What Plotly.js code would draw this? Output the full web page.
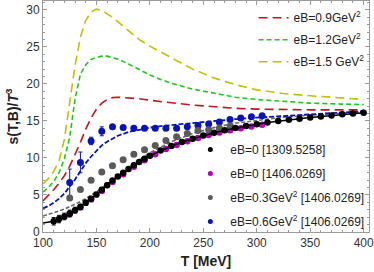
<!DOCTYPE html>
<html><head><meta charset="utf-8">
<script src="https://cdn.plot.ly/plotly-3.0.1.min.js"></script>
<style>html,body{margin:0;padding:0;background:#fff}#chart{width:374px;height:272px}</style>
</head><body><div id="chart"></div>
<script>
// Model curves (dashed)
const Tcurve = [100,105,110,115,120,125,130,135,140,145,150,155,160,165,170,180,190,200,210,220,240,260,280,300,325,350,375,400];
const s_eB09 = [4.2,4.9,5.7,6.6,7.6,8.9,10.4,12.1,13.9,15.4,16.6,17.4,17.9,18.15,18.2,18.15,18.0,17.8,17.6,17.45,17.15,16.9,16.7,16.6,16.5,16.5,16.5,16.5];
const s_eB12 = [5.4,6.0,6.8,8.0,9.9,12.8,18.0,21.3,22.6,23.3,23.6,23.75,23.75,23.6,23.35,22.7,21.9,21.2,20.6,20.1,19.3,18.7,18.2,17.9,17.6,17.4,17.3,17.2];
const s_eB15 = [6.5,7.2,8.2,9.6,12.5,17.2,22.5,26.3,28.6,29.7,30.1,29.9,29.5,29.0,28.4,27.2,26.0,25.1,24.3,23.5,22.0,20.8,19.9,19.2,18.7,18.4,18.1,17.9];
const s_eB06c = [3.2,3.5,3.95,4.5,5.2,6.1,7.1,8.2,9.3,10.2,11.0,11.7,12.2,12.65,13.0,13.5,13.85,14.1,14.3,14.45,14.75,15.0,15.25,15.45,15.7,15.9,16.1,16.3];
const s_eB03c = [2.15,2.35,2.6,2.85,3.1,3.4,3.75,4.1,4.5,4.95,5.4,5.95,6.5,7.05,7.6,8.7,9.75,10.7,11.5,12.2,13.3,14.1,14.7,15.1,15.5,15.8,16.0,16.2];

// Lattice eB=0 [1309.5258] (points + line)
const Tblack = [110,115,120,125,130,135,140,145,150,155,160,165,170,175,180,185,190,195,200,210,220,230,240,250,260,270,280,290,300,310,320,330,340,350,360,370,380,390,400];
const s_black = [1.45,1.75,2.1,2.5,2.95,3.4,3.95,4.5,5.05,5.7,6.3,6.95,7.5,8.0,8.5,9.0,9.45,9.9,10.3,11.0,11.6,12.15,12.6,13.05,13.4,13.75,14.05,14.3,14.55,14.8,15.0,15.15,15.3,15.45,15.6,15.75,15.9,16.0,16.1];
const e_black = [0.5,0.5,0.45,0.45,0.4,0.35,0.35,0.3,0.3,0.3,0.3,0.25,0.25,0.25,0.25,0.2,0.2,0.2,0.2,0.2,0.2,0.2,0.15,0.15,0.15,0.15,0.15,0.15,0.15,0.15,0.15,0.15,0.15,0.15,0.15,0.15,0.15,0.15,0.15];
const TblackLine = [100,105,110,115,120,125,130,135,140,145,150,155,160,165,170,175,180,185,190,195,200,210,220,230,240,250,260,270,280,290,300,310,320,330,340,350,360,370,380,390,400];
const s_blackLine = [1.2,1.3,1.45,1.75,2.1,2.5,2.95,3.4,3.95,4.5,5.05,5.7,6.3,6.95,7.5,8.0,8.5,9.0,9.45,9.9,10.3,11.0,11.6,12.15,12.6,13.05,13.4,13.75,14.05,14.3,14.55,14.8,15.0,15.15,15.3,15.45,15.6,15.75,15.9,16.0,16.1];

// Lattice [1406.0269]
const Tmag = [125,135,145,155,165,175,185,195,205,215,225,235,245,255,265,275,285,295,305];
const s_mag = [2.4,3.3,4.4,5.55,6.75,7.8,8.8,9.7,10.5,11.2,11.75,12.25,12.7,13.1,13.45,13.75,14.0,14.25,14.5];
const Tgray = [125,135,145,155,165,175,185,195,205,215,225,235,245,255,265,275];
const s_gray = [4.6,5.75,7.0,8.1,8.95,9.75,10.5,11.1,11.7,12.35,12.85,13.3,13.7,13.8,14.05,14.3];
const Tblue = [125,135,145,155,165,175,185,195,205,215,225,235,245,255,265,275,285,295,305];
const s_blue = [6.7,9.4,12.3,13.6,14.2,14.1,14.0,14.0,14.0,14.0,14.0,14.2,14.4,14.6,14.85,15.2,15.4,15.55,15.7];
const e_blue = [1.8,1.4,0.5,0.6,0.3,0.2,0.2,0.2,0.2,0.2,0.2,0.2,0.2,0.2,0.2,0.2,0.2,0.2,0.2];

const curveNames = ['eB=0.9GeV<sup>2</sup>','eB=1.2GeV<sup>2</sup>','eB=1.5 GeV<sup>2</sup>'];
const pointNames = ['eB=0 [1309.5258]','eB=0 [1406.0269]','eB=0.3GeV<sup>2</sup> [1406.0269]','eB=0.6GeV<sup>2</sup> [1406.0269]'];

const C_red='#c0161c', C_green='#1ec81e', C_yel='#c4c000', C_blue='#0a14b4', C_gray='#5a5a5a', C_mag='#b400b4', C_blk='#000000';

const traces = [];
traces.push({x:Tcurve,y:s_eB03c,mode:'lines',line:{color:'#6a6a6a',width:1.6,dash:'4px,2px'},showlegend:false});
traces.push({x:Tcurve,y:s_eB06c,mode:'lines',line:{color:C_blue,width:1.8,dash:'5px,2px'},showlegend:false});
traces.push({x:Tcurve,y:s_eB09,mode:'lines',name:curveNames[0],line:{color:C_red,width:1.6,dash:'9px,5px'},legend:'legend',legendgroup:'c0'});
traces.push({x:Tcurve,y:s_eB12,mode:'lines',name:curveNames[1],line:{color:C_green,width:1.6,dash:'5px,3px'},legend:'legend',legendgroup:'c1'});
traces.push({x:Tcurve,y:s_eB15,mode:'lines',name:curveNames[2],line:{color:C_yel,width:1.6,dash:'9px,5px'},legend:'legend',legendgroup:'c2'});
traces.push({x:Tblue,y:s_blue,mode:'markers',marker:{color:C_blue,size:7},error_y:{type:'data',array:e_blue,color:C_blue,thickness:1,width:2},showlegend:false});
traces.push({x:Tmag,y:s_mag,mode:'markers',marker:{color:C_mag,size:6.5},showlegend:false});
traces.push({x:Tgray,y:s_gray,mode:'markers',marker:{color:C_gray,size:7},showlegend:false});
traces.push({x:TblackLine,y:s_blackLine,mode:'lines',line:{color:C_blk,width:1.5},showlegend:false});
traces.push({x:Tblack,y:s_black,mode:'markers',marker:{color:C_blk,size:6.5},error_y:{type:'data',array:e_black,color:C_blk,thickness:1,width:2},showlegend:false});
// legend entries for the point sets
const ptColors=[C_blk,C_mag,C_gray,C_blue];
pointNames.forEach((n,i)=>traces.push({x:[null],y:[null],mode:'markers',name:n,marker:{color:ptColors[i],size:5},legend:'legend2',legendgroup:'p'+i}));

const font='Liberation Sans, Arial, sans-serif';
const axBase={ticks:'inside',ticklen:4,tickcolor:'#9a9a9a',showline:true,linecolor:'#9a9a9a',linewidth:1,mirror:'ticks',showgrid:false,zeroline:false,ticklabeloverflow:'allow',tickfont:{family:font,size:12,color:'#333'}};
const layout={
  width:374,height:272,margin:{l:43,r:5,t:1,b:40},paper_bgcolor:'#fff',plot_bgcolor:'#fff',
  font:{family:font,color:'#222'},
  xaxis:Object.assign({},axBase,{range:[100,405],tick0:100,dtick:50,minor:{dtick:10,ticklen:2,tickcolor:'#9a9a9a',ticks:'inside'},
    title:{text:'<b>T [MeV]</b>',font:{family:font,size:14,color:'#222'},standoff:6}}),
  yaxis:Object.assign({},axBase,{range:[0,31.2],tick0:0,dtick:5,minor:{dtick:1,ticklen:2,tickcolor:'#9a9a9a',ticks:'inside'},
    title:{text:'<b>s(T,B)/<i>T</i><sup>3</sup></b>',font:{family:font,size:14,color:'#222'},standoff:4}}),
  legend:{x:0.646,y:0.99,xanchor:'left',yanchor:'top',bgcolor:'rgba(0,0,0,0)',borderwidth:0,font:{family:font,size:12,color:'#222'},tracegroupgap:3},
  legend2:{x:0.452,y:0.42,xanchor:'left',yanchor:'top',bgcolor:'rgba(0,0,0,0)',borderwidth:0,font:{family:font,size:12,color:'#222'},tracegroupgap:5},
  showlegend:true
};
Plotly.newPlot('chart',traces,layout,{staticPlot:true});
</script></body></html>
